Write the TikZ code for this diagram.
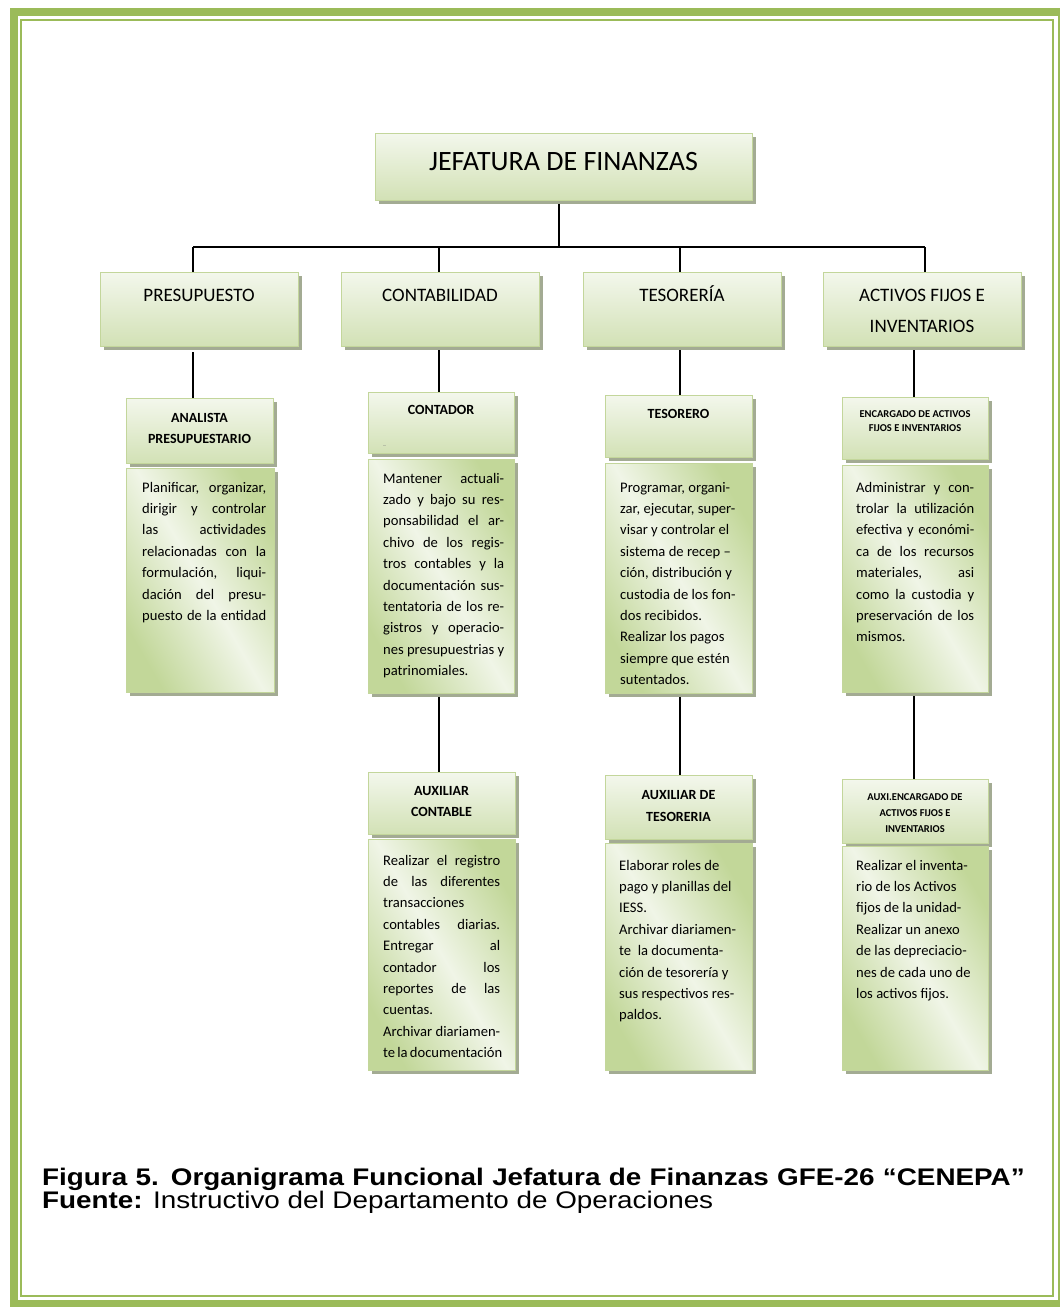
\documentclass[tikz,border=0pt]{standalone}
\usepackage{graphicx}
\usepackage{fontspec}
\setmainfont{Carlito}
\newfontfamily\capfont{Liberation Sans}
\usetikzlibrary{shadows}

\definecolor{frameg}{HTML}{9BBB59}
\definecolor{boxline}{HTML}{C3D69B}
\definecolor{shadowc}{HTML}{A3AB93}
\definecolor{hdrtop}{HTML}{F3F7EC}
\definecolor{hdrbot}{HTML}{D2E1B5}
\definecolor{dscdark}{HTML}{C2D799}
\definecolor{dsclight}{HTML}{F0F5E7}

% description paragraph: width, then lines
\newcommand\dsc[2]{\parbox[t]{#1}{\fontsize{14.6}{21.4}\selectfont #2}}
% one justified line
\newcommand\J[1]{\makebox[\linewidth][s]{#1}}
% centred bold heading block: width, size, leading, lines
\newcommand\hd[4]{\parbox[t]{#1}{\centering\bfseries\fontsize{#2}{#3}\selectfont #4}}

\begin{document}
\begin{tikzpicture}[x=1pt,y=-1pt,
  box/.style={rectangle, draw=boxline, line width=1, inner sep=0, anchor=north west,
    general shadow={fill=shadowc, shadow xshift=3pt, shadow yshift=-3pt}},
  hdr/.style={box, top color=hdrtop, bottom color=hdrbot},
  dscbox/.style={box, left color=dscdark, right color=dscdark, middle color=dsclight, shading angle=120},
  lbl/.style={anchor=base, inner sep=0},
  txt/.style={anchor=base west, inner sep=0},
  conn/.style={draw=black, line width=1.1}]

\useasboundingbox (0,0) rectangle (1060,1307);
\fill[white] (0,0) rectangle (1060,1307);

% page frame
\draw[frameg, line width=8] (14,12) rectangle (1062,1303.5);
\draw[frameg, line width=2] (21,20) rectangle (1053,1296);

% top box
\node[hdr, minimum width=377, minimum height=67] (jef) at (375,133) {};
\node[lbl, font=\fontsize{28}{30}\selectfont] (jeft) at (563.5,170) {JEFATURA DE FINANZAS};

% second level
\node[hdr, minimum width=198, minimum height=74] (pres) at (100,272) {};
\node[hdr, minimum width=198, minimum height=74] (cont) at (341,272) {};
\node[hdr, minimum width=198, minimum height=74] (teso) at (583,272) {};
\node[hdr, minimum width=198, minimum height=74] (acti) at (823,272) {};
\node[lbl, font=\fontsize{19}{21}\selectfont] (prest) at (199,301) {PRESUPUESTO};
\node[lbl, font=\fontsize{19}{21}\selectfont] (contt) at (440,301) {CONTABILIDAD};
\node[lbl, font=\fontsize{19}{21}\selectfont] (tesot) at (682,301) {TESORERÍA};
\node[lbl, font=\fontsize{19}{21}\selectfont] (actit1) at (922,301) {ACTIVOS FIJOS E};
\node[lbl, font=\fontsize{19}{21}\selectfont] (actit2) at (922,332) {INVENTARIOS};

% bus between top and second level
\coordinate (busM) at (559,247);
\coordinate (busL) at (193,247);
\coordinate (busR) at (925,247);
\draw[conn] (jef.south -| busM) ++(0,3) -- (busM);
\draw[conn] (busL) -- (busR);
\draw[conn] (busL) -- (busL |- pres.north);
\draw[conn] (busM -| 439,0) -- (cont.north -| 439,0);
\draw[conn] (busM -| 680,0) -- (teso.north -| 680,0);
\draw[conn] (busR) -- (busR |- acti.north);

% third level headings
\node[hdr, minimum width=147, minimum height=65] (ana) at (126,398) {};
\node[hdr, minimum width=146, minimum height=61] (cdr) at (368,392) {};
\node[hdr, minimum width=147, minimum height=62] (tes) at (605,395) {};
\node[hdr, minimum width=146, minimum height=62] (enc) at (842,397) {};

\node[lbl] (anat) at (199.5,422) {\hd{146pt}{14}{21}{ANALISTA\\PRESUPUESTARIO}};
\node[lbl] (cdrt) at (441,414) {\hd{146pt}{14}{21}{CONTADOR}};
\node[txt, text=gray] (cdrmark) at (383,445) {\fontsize{6}{7}\selectfont\_};
\node[lbl] (test) at (678.5,418) {\hd{146pt}{14}{21}{TESORERO}};
\node[lbl] (enct) at (915,417) {\hd{146pt}{10.5}{14}{ENCARGADO DE ACTIVOS\\FIJOS E INVENTARIOS}};

% third level duties
\node[dscbox, minimum width=148, minimum height=224] (anad) at (126,468) {};
\node[dscbox, minimum width=146, minimum height=234] (cdrd) at (368,459) {};
\node[dscbox, minimum width=147, minimum height=230] (tesd) at (605,463) {};
\node[dscbox, minimum width=146, minimum height=227] (encd) at (842,465) {};

\node[txt] (anadt) at (142,492) {\dsc{124pt}{%
\J{Planificar, organizar,}\\
\J{dirigir y controlar}\\
\J{las actividades}\\
\J{relacionadas con la}\\
\J{formulación, liqui-}\\
\J{dación del presu-}\\
\J{puesto de la entidad}}};

\node[txt] (cdrdt) at (383,483) {\dsc{121pt}{%
\J{Mantener actuali-}\\
\J{zado y bajo su res-}\\
\J{ponsabilidad el ar-}\\
\J{chivo de los regis-}\\
\J{tros contables y la}\\
\J{documentación sus-}\\
\J{tentatoria de los re-}\\
\J{gistros y operacio-}\\
\J{nes presupuestrias y}\\
patrinomiales.}};

\node[txt] (tesdt) at (620,492) {\dsc{125pt}{%
Programar, organi-\\
zar, ejecutar, super-\\
visar y controlar el\\
sistema de recep –\\
ción, distribución y\\
custodia de los fon-\\
dos recibidos.\\
Realizar los pagos\\
siempre que estén\\
sutentados.}};

\node[txt] (encdt) at (856,492) {\dsc{118pt}{%
\J{Administrar y con-}\\
\J{trolar la utilización}\\
\J{efectiva y económi-}\\
\J{ca de los recursos}\\
\J{materiales, asi}\\
\J{como la custodia y}\\
\J{preservación de los}\\
mismos.}};

% links between levels
\draw[conn, shorten <=5pt] (pres.south -| busL) -- (ana.north -| busL);
\draw[conn, shorten <=3pt] (cont.south -| 439,0) -- (cdr.north -| 439,0);
\draw[conn, shorten <=3pt] (teso.south -| 680,0) -- (tes.north -| 680,0);
\draw[conn, shorten <=3pt] (acti.south -| 914,0) -- (enc.north -| 914,0);

% fourth level headings
\node[hdr, minimum width=147, minimum height=62] (auc) at (368,772) {};
\node[hdr, minimum width=147, minimum height=64] (aut) at (605,775) {};
\node[hdr, minimum width=146, minimum height=64] (aue) at (842,779) {};

\node[lbl] (auct) at (441.5,795) {\hd{146pt}{14}{21}{AUXILIAR\\CONTABLE}};
\node[lbl] (autt) at (678.5,799) {\hd{146pt}{14}{22}{AUXILIAR DE\\TESORERIA}};
\node[lbl] (auet) at (915,800) {\hd{146pt}{10.5}{16}{AUXI.ENCARGADO DE\\ACTIVOS FIJOS E\\INVENTARIOS}};

\draw[conn, shorten <=3pt] (cdrd.south -| 439,0) -- (auc.north -| 439,0);
\draw[conn, shorten <=3pt] (tesd.south -| 680,0) -- (aut.north -| 680,0);
\draw[conn, shorten <=3pt] (encd.south -| 914,0) -- (aue.north -| 914,0);

% fourth level duties
\node[dscbox, minimum width=147, minimum height=231] (aucd) at (368,839) {};
\node[dscbox, minimum width=147, minimum height=227] (autd) at (605,843) {};
\node[dscbox, minimum width=146, minimum height=224] (aued) at (842,846) {};

\node[txt] (aucdt) at (383,865) {\dsc{117pt}{%
\J{Realizar el registro}\\
\J{de las diferentes}\\
transacciones\\
\J{contables diarias.}\\
\J{Entregar al}\\
\J{contador los}\\
\J{reportes de las}\\
cuentas.\\
\J{Archivar diariamen-}\\
\J{te la documentación}}};

\node[txt] (autdt) at (619,870) {\dsc{125pt}{%
Elaborar roles de\\
pago y planillas del\\
IESS.\\
Archivar diariamen-\\
te\ \ la documenta-\\
ción de tesorería y\\
sus respectivos res-\\
paldos.}};

\node[txt] (auedt) at (856,870) {\dsc{125pt}{%
Realizar el inventa-\\
rio de los Activos\\
fijos de la unidad-\\
Realizar un anexo\\
de las depreciacio-\\
nes de cada uno de\\
los activos fijos.}};

% caption, set in a slightly widened Arial-like face
\node[txt] (cap1) at (42,1185) {\scalebox{1.16}[1]{\capfont\bfseries\fontsize{24}{24}\selectfont
  \makebox[847pt][s]{Figura 5. Organigrama Funcional Jefatura de Finanzas GFE-26 “CENEPA”}}};
\node[txt] (cap2) at (42,1208) {\scalebox{1.16}[1]{\capfont\fontsize{24}{24}\selectfont
  \textbf{Fuente:} Instructivo del Departamento de Operaciones}};

\end{tikzpicture}
\end{document}
